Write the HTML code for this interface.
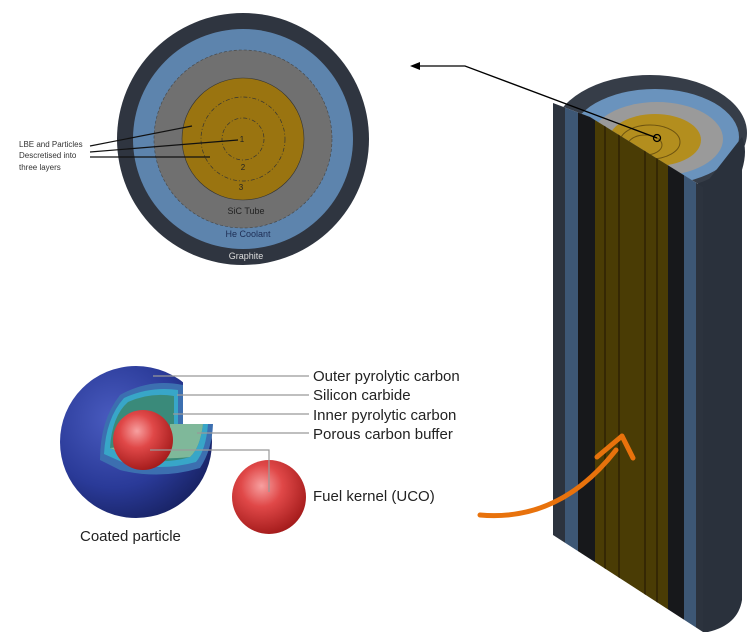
<!DOCTYPE html>
<html><head><meta charset="utf-8"><style>
html,body{margin:0;padding:0;background:#fff}
svg{display:block}
text{font-family:"Liberation Sans",sans-serif}
</style></head><body>
<svg width="752" height="642" viewBox="0 0 752 642" xmlns="http://www.w3.org/2000/svg">
<defs>
<radialGradient id="red" cx="0.4" cy="0.35" r="0.7"><stop offset="0" stop-color="#f7a0a0"/><stop offset="0.4" stop-color="#e04848"/><stop offset="1" stop-color="#a01818"/></radialGradient>
<radialGradient id="blu" cx="0.35" cy="0.35" r="0.75"><stop offset="0" stop-color="#4a5cc0"/><stop offset="0.6" stop-color="#2a3a98"/><stop offset="1" stop-color="#16205e"/></radialGradient>
<clipPath id="front"><polygon points="553,103 590,117 703,187 703,632 553,535"/></clipPath>
<clipPath id="topc"><polygon points="540,40 752,40 752,187 703,187 590,117 553,103 540,103"/></clipPath>
</defs>

<!-- Top cross-section -->
<circle cx="243" cy="139" r="126" fill="#2f3540"/>
<circle cx="243" cy="139" r="110" fill="#5d84ad"/>
<circle cx="243" cy="139" r="89" fill="#707070" stroke="#444" stroke-width="0.6" stroke-dasharray="3,2"/>
<circle cx="243" cy="139" r="61" fill="#9a7410" stroke="#333" stroke-width="0.6"/>
<circle cx="243" cy="139" r="42" fill="none" stroke="#333" stroke-width="0.7" stroke-dasharray="4,2,1,2"/>
<circle cx="243" cy="139" r="21" fill="none" stroke="#333" stroke-width="0.7" stroke-dasharray="4,2,1,2"/>
<g font-size="8" fill="#222" text-anchor="middle">
<text x="242" y="142">1</text><text x="243" y="170">2</text><text x="241" y="190">3</text>
<text x="246" y="214" font-size="9">SiC Tube</text>
<text x="248" y="237" font-size="9" fill="#1e2e55">He Coolant</text>
<text x="246" y="259" font-size="9" fill="#ddd">Graphite</text>
</g>
<g font-size="8" fill="#333">
<text x="19" y="147">LBE and Particles</text>
<text x="19" y="158">Descretised into</text>
<text x="19" y="170">three layers</text>
</g>
<g stroke="#111" stroke-width="1.2">
<line x1="90" y1="146" x2="192" y2="126"/>
<line x1="90" y1="152" x2="238" y2="140"/>
<line x1="90" y1="157" x2="210" y2="157"/>
</g>

<!-- Cylinder -->
<polygon points="698,178 742,128 742,200 698,200" fill="#2a313c"/>
<g clip-path="url(#topc)">
<ellipse cx="650" cy="133" rx="97" ry="58" fill="#363d48"/>
<ellipse cx="655" cy="137" rx="84" ry="48" fill="#6a93bd"/>
<ellipse cx="657" cy="139" rx="66" ry="37" fill="#9a9a9a"/>
<ellipse cx="655" cy="140" rx="46" ry="26" fill="#b38e1e"/>
<ellipse cx="650" cy="142" rx="30" ry="17" fill="none" stroke="#6e5410" stroke-width="1"/>
<ellipse cx="645" cy="145" rx="17" ry="10" fill="none" stroke="#6e5410" stroke-width="1"/>
</g>
<path d="M703,187 L742,137 Q748,150 742,170 L742,600 Q738,625 708,632 L703,632 Z" fill="#2a313c"/>
<g clip-path="url(#front)">
<rect x="553" y="90" width="12" height="550" fill="#2c333e"/>
<rect x="565" y="90" width="13" height="550" fill="#3d5775"/>
<rect x="578" y="90" width="17" height="550" fill="#17181b"/>
<rect x="595" y="90" width="73" height="550" fill="#4a3c05"/>
<g stroke="#2e2205" stroke-width="1.5"><line x1="605" y1="90" x2="605" y2="640"/><line x1="619" y1="90" x2="619" y2="640"/><line x1="645" y1="90" x2="645" y2="640"/><line x1="657" y1="90" x2="657" y2="640"/></g>
<rect x="668" y="90" width="16" height="550" fill="#17181b"/>
<rect x="684" y="90" width="12" height="550" fill="#3d5775"/>
<rect x="696" y="90" width="7" height="550" fill="#2c333e"/>
</g>
<circle cx="657" cy="138" r="3.5" fill="none" stroke="#000" stroke-width="1.3"/>
<polyline points="657,138 465,66 418,66" fill="none" stroke="#000" stroke-width="1.3"/>
<polygon points="410,66 420,62 420,70" fill="#000"/>

<!-- Coated particle -->
<circle cx="136" cy="442" r="76" fill="url(#blu)"/>
<path d="M165,366 L215,366 L215,424 L183,424 L183,380 Q178,370 165,366 Z" fill="#fff"/>
<path d="M183,424 L213,424 Q212,450 200,468 Q160,480 120,470 L100,460 Q100,420 120,395 Q150,378 183,385 Z" fill="#3c6fb0"/>
<path d="M178,424 L208,424 Q206,450 196,462 Q160,472 122,462 L104,454 Q106,418 124,398 Q150,386 178,390 Z" fill="#38a6c8"/>
<path d="M174,424 L203,424 Q200,448 190,457 Q160,466 126,456 L110,448 Q112,416 128,402 Q150,392 174,396 Z" fill="#3a8a7a"/>
<path d="M110,448 Q140,462 190,457 Q200,448 203,424 L170,424 L170,440 Q140,445 110,448 Z" fill="#7fb89a"/>
<circle cx="143" cy="440" r="30" fill="url(#red)"/>
<circle cx="269" cy="497" r="37" fill="url(#red)"/>
<g stroke="#999" stroke-width="1.2" fill="none">
<line x1="153" y1="376" x2="309" y2="376"/>
<line x1="177" y1="395" x2="309" y2="395"/>
<line x1="173" y1="414" x2="309" y2="414"/>
<line x1="197" y1="433" x2="309" y2="433"/>
<polyline points="150,450 269,450 269,492"/>
</g>
<g font-size="15" fill="#222">
<text x="313" y="381">Outer pyrolytic carbon</text>
<text x="313" y="400">Silicon carbide</text>
<text x="313" y="420">Inner pyrolytic carbon</text>
<text x="313" y="439">Porous carbon buffer</text>
<text x="313" y="501">Fuel kernel (UCO)</text>
<text x="80" y="541">Coated particle</text>
</g>

<!-- Orange arrow -->
<path d="M480,515 Q560,522 616,450" fill="none" stroke="#e8720c" stroke-width="5" stroke-linecap="round"/>
<polyline points="597,457 622,436 633,458" fill="none" stroke="#e8720c" stroke-width="5" stroke-linecap="round" stroke-linejoin="round"/>
</svg>
</body></html>
